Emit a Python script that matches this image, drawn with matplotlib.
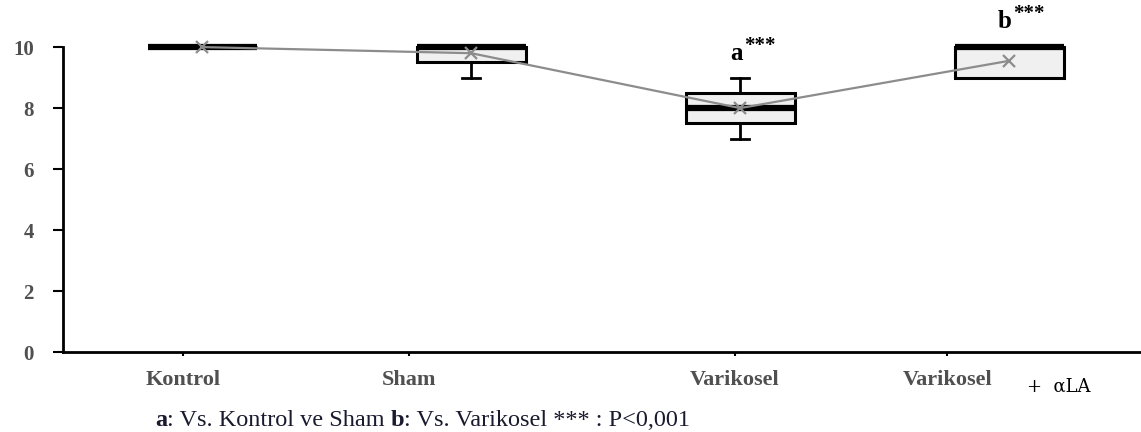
import matplotlib
matplotlib.use("Agg")
import matplotlib.pyplot as plt

# group labels and box statistics
groups = ["Kontrol", "Sham", "Varikosel", "Varikosel"]
medians = [10, 10, 8, 10]
q1 = [10, 9.5, 7.5, 9]
q3 = [10, 10, 8.5, 10]
whisker_lo = [10, 9, 7, 9]
whisker_hi = [10, 10, 9, 10]
means = [10, 9.8, 8, 9.55]
sig_labels = ["", "", "a", "b"]
y_ticks = [0, 2, 4, 6, 8, 10]

positions = [1, 2, 3, 4]
label_pos = [0.93, 1.77, 2.98, 3.77]

plt.rcParams["font.family"] = ["Liberation Serif", "DejaVu Serif"]

fig = plt.figure(figsize=(11.41, 4.32), dpi=100)
ax = fig.add_axes([0.0552, 0.185, 0.9448, 0.706])

stats = []
for i in range(len(groups)):
    stats.append(dict(med=medians[i], q1=q1[i], q3=q3[i],
                      whislo=whisker_lo[i], whishi=whisker_hi[i],
                      mean=means[i], label=groups[i]))

parts_bp = ax.bxp(stats, positions=positions, widths=0.405, capwidths=0.068,
                  showmeans=False, showfliers=False, patch_artist=True,
                  boxprops=dict(facecolor="#f0f0f0", edgecolor="black", linewidth=2.2),
                  medianprops=dict(color="black", linewidth=4.5),
                  whiskerprops=dict(color="black", linewidth=2),
                  capprops=dict(color="black", linewidth=2),
                  manage_ticks=False)
for arts in parts_bp.values():
    for a in arts:
        a.set_clip_on(False)

# mean trend line
ax.plot(positions, means, color="#8c8c8c", linewidth=1.6, marker="x",
        markersize=8, markeredgewidth=1.6, zorder=5, clip_on=False)

# significance marks
for p, lab, top in zip(positions, sig_labels, whisker_hi):
    if lab:
        y = top + 0.8 if lab == "a" else top + 0.85
        ax.annotate(lab, (p, y), xytext=(2, 0), textcoords="offset points",
                    ha="right", va="center", fontsize=18, fontweight="bold",
                    annotation_clip=False)
        ax.annotate("***", (p, y), xytext=(3, 5), textcoords="offset points",
                    ha="left", va="center", fontsize=15, fontweight="bold",
                    annotation_clip=False)

ax.set_xlim(0.483, 4.49)
ax.set_ylim(0, 10)
ax.set_yticks(y_ticks)
ax.set_yticklabels([str(t) for t in y_ticks], fontsize=15, fontweight="bold",
                   color="#505050")
ax.set_xticks(label_pos)
ax.set_xticklabels(groups, fontsize=16, fontweight="bold", color="#505050")
ax.tick_params(axis="y", length=7, width=1.5, pad=14)
ax.tick_params(axis="x", length=3, width=1.5, pad=10, direction="out")
for side in ["top", "right"]:
    ax.spines[side].set_visible(False)
for side in ["left", "bottom"]:
    ax.spines[side].set_linewidth(2)

fig.text(1027 / 1141, 1 - 387 / 432, "+  \u03b1LA", fontsize=13,
         ha="left", va="center", color="black", family=["DejaVu Serif"])

# footnote
parts = [("a", "bold"), (": Vs. Kontrol ve Sham ", "normal"), ("b", "bold"),
         (": Vs. Varikosel *** : P<0,001", "normal")]
renderer = fig.canvas.get_renderer()
x = 155 / 1141
for txt, w in parts:
    t = fig.text(x, 1 - 420 / 432, txt, fontsize=17.5, fontweight=w,
                 ha="left", va="center", color="#1a1a2e")
    bb = t.get_window_extent(renderer=renderer)
    x += bb.width / fig.bbox.width

fig.savefig("out.png", dpi=100)
